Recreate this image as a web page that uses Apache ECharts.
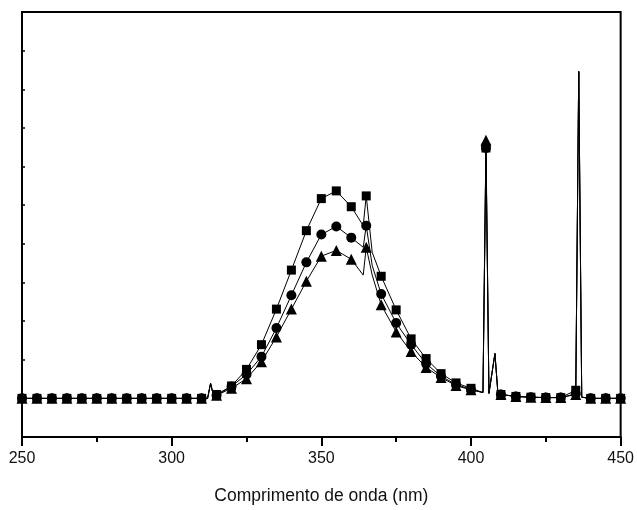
<!DOCTYPE html>
<html>
<head>
<meta charset="utf-8">
<script src="https://cdn.jsdelivr.net/npm/echarts@6/dist/echarts.min.js"></script>
<style>
  html, body { margin: 0; padding: 0; background: #fff; }
  #main { width: 637px; height: 510px; }
</style>
</head>
<body>
<div id="main"></div>
<script>
var chart = echarts.init(document.getElementById('main'));

// marked points, every 5 nm
var wavelengths = [250, 255, 260, 265, 270, 275, 280, 285, 290, 295, 300, 305, 310,
  315, 320, 325, 330, 335, 340, 345, 350, 355, 360, 365, 370, 375, 380, 385, 390,
  395, 400, 405, 410, 415, 420, 425, 430, 435, 440, 445, 450];

var squares = [0, 0, 0, 0, 0, 0, 0, 0, 0, 0, 0, 0, 0,
  1.0, 3.2, 7.5, 13.9, 23.1, 33.2, 43.4, 51.7, 53.7, 49.6, 52.4, 31.6, 22.9, 15.4, 10.3, 6.4,
  4.0, 2.6, 64.8, 1.0, 0.5, 0.3, 0.2, 0.2, 2.1, 0, 0, 0];

var circles = [0, 0, 0, 0, 0, 0, 0, 0, 0, 0, 0, 0, 0,
  0.8, 3.1, 6.2, 10.8, 18.2, 26.7, 35.2, 42.4, 44.5, 41.6, 44.7, 27.0, 19.5, 13.9, 9.0, 5.7,
  3.6, 2.3, 64.8, 1.0, 0.5, 0.3, 0.2, 0.2, 1.2, 0, 0, 0];

var triangles = [0, 0, 0, 0, 0, 0, 0, 0, 0, 0, 0, 0, 0,
  0.8, 2.6, 5.1, 9.5, 15.9, 23.1, 30.3, 36.8, 38.3, 36.0, 39.1, 24.2, 17.2, 12.1, 8.0, 5.4,
  3.3, 2.2, 66.8, 1.0, 0.5, 0.3, 0.2, 0.2, 1.0, 0, 0, 0];

// unmarked points between markers (spikes and dips of the line)
var extraX = [312, 313, 314, 364, 367, 404, 406, 408, 409, 436, 437];
var squaresExtra = [0, 3.9, 0.6, 44.7, 37.8, 1.5, 1.3, 11.6, 1.3, 84.6, 0.3];
var circlesExtra = [0, 3.9, 0.6, 39.1, 34.4, 1.5, 1.3, 11.6, 1.3, 84.6, 0.3];
var trianglesExtra = [0, 3.9, 0.6, 31.9, 31.9, 1.5, 1.3, 11.6, 1.3, 84.6, 0.3];

function buildData(marked, extra) {
  var pts = [];
  for (var i = 0; i < wavelengths.length; i++) {
    pts.push({ value: [wavelengths[i], marked[i]] });
  }
  for (var j = 0; j < extraX.length; j++) {
    pts.push({ value: [extraX[j], extra[j]], symbol: 'none' });
  }
  pts.sort(function (a, b) { return a.value[0] - b.value[0]; });
  return pts;
}

function makeSeries(name, symbol, size, marked, extra) {
  return {
    name: name,
    type: 'line',
    symbol: symbol,
    symbolSize: size,
    showAllSymbol: true,
    lineStyle: { color: '#000', width: 1 },
    itemStyle: { color: '#000' },
    data: buildData(marked, extra)
  };
}

var option = {
  animation: false,
  backgroundColor: '#fff',
  textStyle: { fontFamily: 'Liberation Sans, Arial, sans-serif' },
  grid: {
    left: 22, right: 15, top: 12, bottom: 70,
    show: true, borderColor: '#000', borderWidth: 2
  },
  xAxis: {
    type: 'value',
    min: 250, max: 450, interval: 50,
    name: 'Comprimento de onda (nm)',
    nameLocation: 'middle',
    nameGap: 50,
    nameTextStyle: { fontSize: 17.5, color: '#111' },
    axisLine: { onZero: false, lineStyle: { color: '#000', width: 2 } },
    axisTick: { length: 9, lineStyle: { color: '#000', width: 2 } },
    minorTick: { show: true, splitNumber: 2, length: 5, lineStyle: { color: '#000', width: 2 } },
    axisLabel: { fontSize: 16, color: '#111', margin: 14 },
    splitLine: { show: false }
  },
  yAxis: {
    type: 'value',
    min: -10, max: 100, interval: 10,
    axisLine: { show: true, lineStyle: { color: '#000', width: 2 } },
    axisTick: { show: true, inside: true, length: 3, lineStyle: { color: '#000', width: 1.5 } },
    axisLabel: { show: false },
    splitLine: { show: false }
  },
  series: [
    makeSeries('quadrado', 'rect', 9, squares, squaresExtra),
    makeSeries('círculo', 'circle', 10, circles, circlesExtra),
    makeSeries('triângulo', 'triangle', 11, triangles, trianglesExtra)
  ]
};

chart.setOption(option);
</script>
</body>
</html>
